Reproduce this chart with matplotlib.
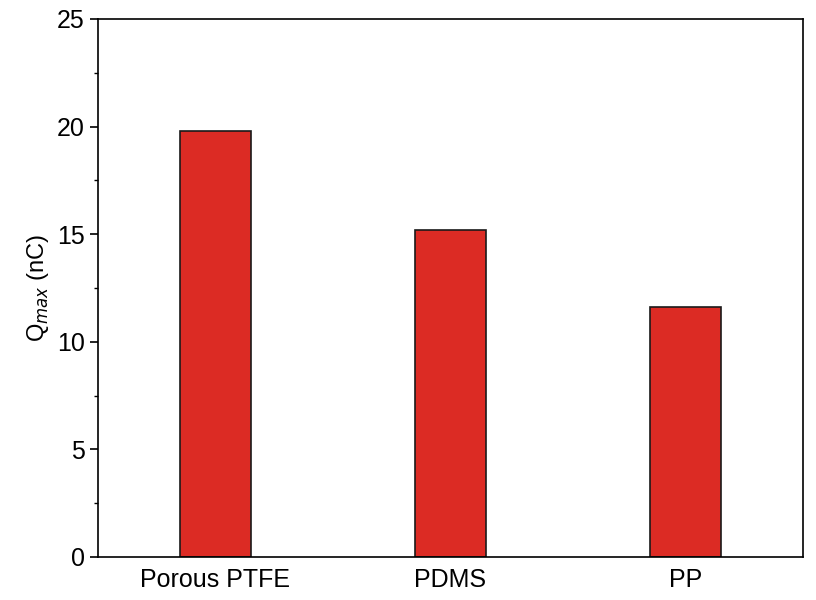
import matplotlib
matplotlib.use('Agg')
import matplotlib.pyplot as plt
from matplotlib.ticker import MultipleLocator

plt.rcParams['font.family'] = ['Liberation Sans', 'DejaVu Sans']

materials = ['Porous PTFE', 'PDMS', 'PP']
q_max = [19.8, 15.2, 11.6]

fig = plt.figure(figsize=(8.16, 6.0), dpi=100)
ax = fig.add_axes([98 / 816, 43 / 600, 705 / 816, 538 / 600])

ax.bar(range(len(materials)), q_max, width=0.3, color='#dc2b24',
       edgecolor='#1a1a1a', linewidth=1.2)

ax.set_xlim(-0.5, 2.5)
ax.set_ylim(0, 25)
ax.set_xticks(range(len(materials)))
ax.set_xticklabels(materials)
ax.yaxis.set_major_locator(MultipleLocator(5))
ax.yaxis.set_minor_locator(MultipleLocator(2.5))
ax.tick_params(axis='both', labelsize=18, direction='out', width=1.2)
ax.tick_params(axis='x', length=0, pad=8)
ax.tick_params(axis='y', which='major', length=6)
ax.tick_params(axis='y', which='minor', length=3, width=1.0)
for s in ax.spines.values():
    s.set_linewidth(1.2)

ax.set_ylabel(r'Q$_{max}$ (nC)', fontsize=17)

fig.savefig('out.png', dpi=100)
